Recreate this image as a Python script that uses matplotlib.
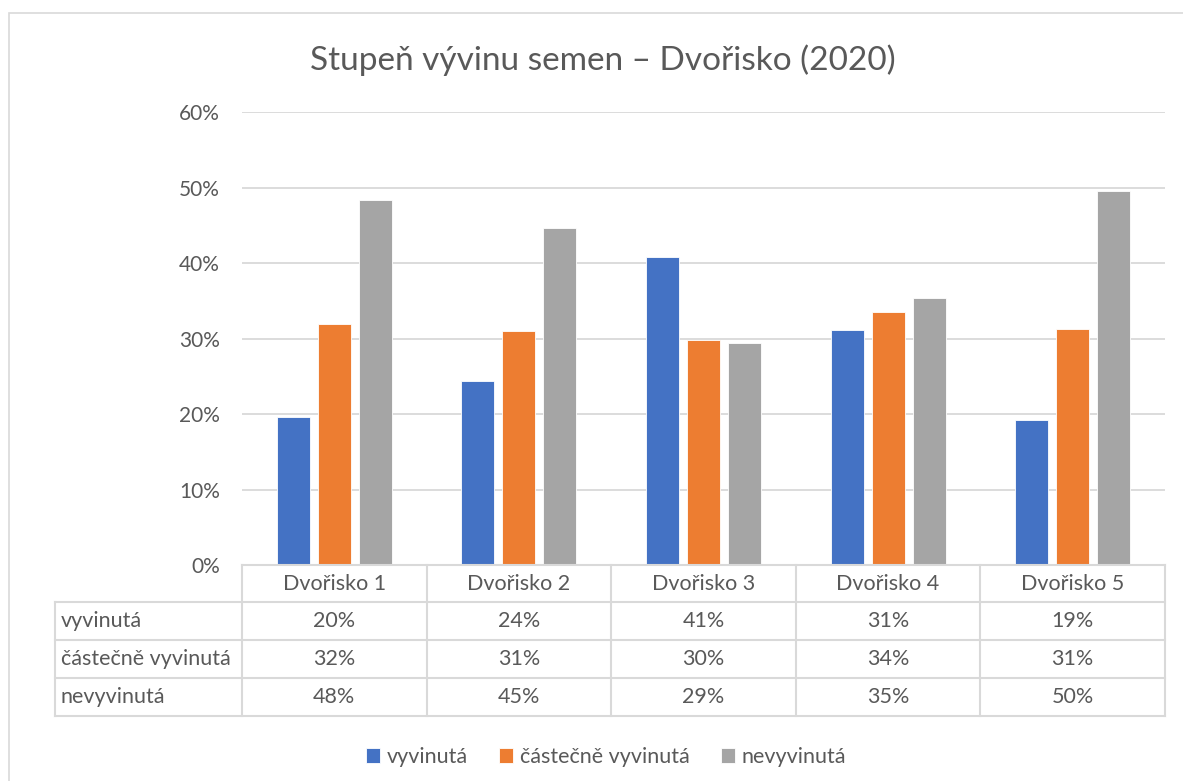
import matplotlib.pyplot as plt
import numpy as np
from matplotlib.lines import Line2D
from matplotlib.patches import Rectangle

plt.rcParams['font.family'] = ['Lato', 'DejaVu Sans']

categories = ['Dvořisko 1', 'Dvořisko 2', 'Dvořisko 3', 'Dvořisko 4', 'Dvořisko 5']
series = ['vyvinutá', 'částečně vyvinutá', 'nevyvinutá']
vyvinuta = [19.6, 24.4, 40.8, 31.1, 19.2]
castecne = [31.9, 31.0, 29.8, 33.5, 31.2]
nevyvinuta = [48.4, 44.6, 29.4, 35.4, 49.6]
colors = ['#4472c4', '#ed7d31', '#a5a5a5']

W, H = 1183, 781
fs = 15.5
tc = '#595959'
fig = plt.figure(figsize=(W / 100, H / 100), dpi=100)
# chart frame
fig.patches.append(Rectangle((9 / W, -0.1), 1.2, 1 - 13 / H + 0.1, transform=fig.transFigure,
                             fill=False, edgecolor='#d9d9d9', lw=1.2))

left, right, top, bottom = 242, 1165, 112, 565
ax = fig.add_axes([left / W, 1 - bottom / H, (right - left) / W, (bottom - top) / H])

x = np.arange(len(categories))
step, width = 0.222, 0.179
data = [vyvinuta, castecne, nevyvinuta]
for i, (vals, c) in enumerate(zip(data, colors)):
    ax.bar(x + (i - 1) * step, vals, width, color=c, edgecolor='white', lw=0.6, zorder=3, label=series[i])

ax.set_xlim(-0.5, len(categories) - 0.5)
ax.set_ylim(0, 60)
ax.set_yticks(range(0, 61, 10))
ax.set_yticklabels([f'{v}%' for v in range(0, 61, 10)])
ax.set_xticks([])
ax.tick_params(axis='y', length=0, pad=16, labelsize=15, labelcolor=tc)
ax.grid(axis='y', color='#d9d9d9', lw=1.3, zorder=0)
for s in ax.spines.values():
    s.set_visible(False)

fig.text(603 / W, 1 - 60 / H, 'Stupeň vývinu semen – Dvořisko (2020)', ha='center', va='center',
         fontsize=24, color=tc)

# data table
def fy(py):
    return 1 - py / H

def fx(px):
    return px / W

lc = '#d9d9d9'
rows_y = [565, 602, 640, 678, 716]
col_x = [left + (right - left) * k / len(categories) for k in range(len(categories) + 1)]
tab_left = 55
fig.add_artist(Line2D([fx(left), fx(right)], [fy(565), fy(565)], color=lc, lw=1.5))
for ry in rows_y[1:]:
    fig.add_artist(Line2D([fx(tab_left), fx(right)], [fy(ry), fy(ry)], color=lc, lw=1.5))
for cx in col_x:
    fig.add_artist(Line2D([fx(cx), fx(cx)], [fy(565), fy(716)], color=lc, lw=1.5))
fig.add_artist(Line2D([fx(tab_left), fx(tab_left)], [fy(602), fy(716)], color=lc, lw=1.5))

for k, cat in enumerate(categories):
    cx = (col_x[k] + col_x[k + 1]) / 2
    fig.text(fx(cx), fy((rows_y[0] + rows_y[1]) / 2), cat, ha='center', va='center', fontsize=fs, color=tc)
    for r, vals in enumerate(data):
        fig.text(fx(cx), fy((rows_y[r + 1] + rows_y[r + 2]) / 2), f'{vals[k]:.0f}%',
                 ha='center', va='center', fontsize=fs, color=tc)
for r, name in enumerate(series):
    fig.text(fx(tab_left + 6), fy((rows_y[r + 1] + rows_y[r + 2]) / 2), name, ha='left', va='center',
             fontsize=fs, color=tc)

leg = fig.legend(loc='center', bbox_to_anchor=(606 / W, fy(757)), ncol=3, frameon=False,
                 fontsize=fs, handlelength=0.65, handleheight=0.65, handletextpad=0.3, columnspacing=1.45)
for t in leg.get_texts():
    t.set_color(tc)

fig.savefig('out.png', dpi=100)
